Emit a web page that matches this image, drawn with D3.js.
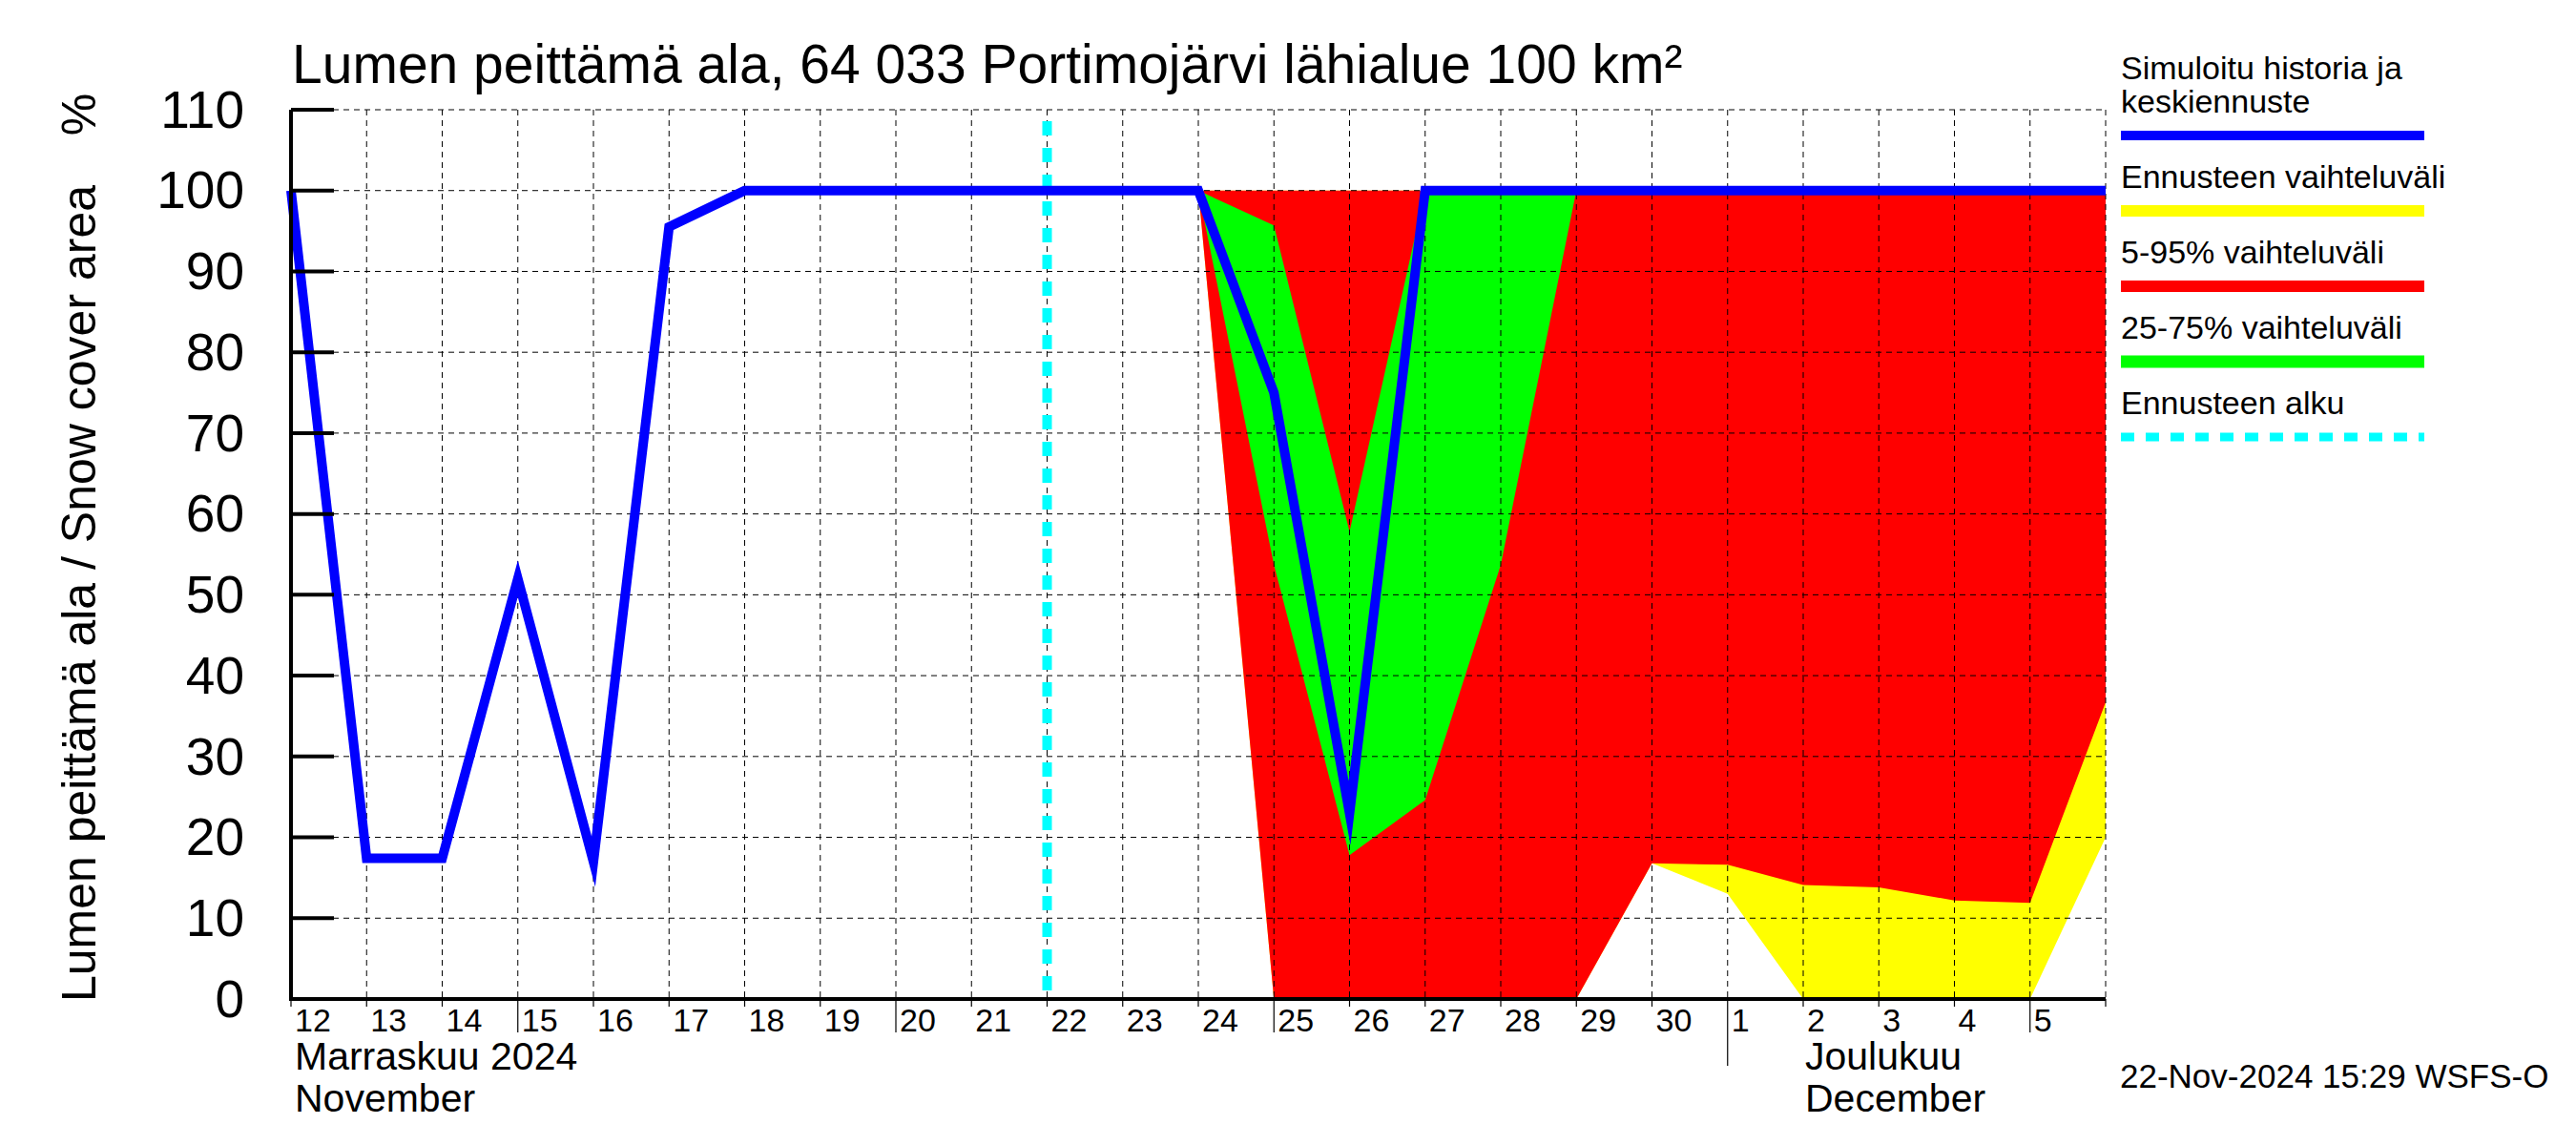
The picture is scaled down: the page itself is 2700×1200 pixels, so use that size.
<!DOCTYPE html>
<html>
<head>
<meta charset="utf-8">
<script src="https://cdn.jsdelivr.net/npm/d3@7"></script>
<style>
  body { margin: 0; background: #fff; }
  svg { display: block; font-family: "Liberation Sans", Arial, sans-serif; }
</style>
</head>
<body>
<svg id="chart" width="2700" height="1200"></svg>
<script>
// simulated history + mean forecast
const simDates = ['2024-11-12', '2024-11-13', '2024-11-14', '2024-11-15', '2024-11-16', '2024-11-17',
  '2024-11-18', '2024-11-19', '2024-11-20', '2024-11-21', '2024-11-22', '2024-11-23', '2024-11-24',
  '2024-11-25', '2024-11-26', '2024-11-27', '2024-11-28', '2024-11-29', '2024-11-30',
  '2024-12-01', '2024-12-02', '2024-12-03', '2024-12-04', '2024-12-05', '2024-12-06'];
const simValues = [100, 17.4, 17.4, 52, 17, 95.5, 100, 100, 100, 100, 100, 100, 100,
  75, 23, 100, 100, 100, 100, 100, 100, 100, 100, 100, 100];

// forecast spread
const fcDates = ['2024-11-24', '2024-11-25', '2024-11-26', '2024-11-27', '2024-11-28', '2024-11-29',
  '2024-11-30', '2024-12-01', '2024-12-02', '2024-12-03', '2024-12-04', '2024-12-05', '2024-12-06'];
const rangeMin = [100, 0, 0, 0, 0, 0, 16.8, 13, 0, 0, 0, 0, 20];
const rangeMax = [100, 100, 100, 100, 100, 100, 100, 100, 100, 100, 100, 100, 100];
const p05 = [100, 0, 0, 0, 0, 0, 16.8, 16.6, 14.1, 13.8, 12.2, 11.9, 36.7];
const p95 = [100, 100, 100, 100, 100, 100, 100, 100, 100, 100, 100, 100, 100];
const p25 = [100, 53.7, 17.8, 24.6, 53.7, 100, 100, 100, 100, 100, 100, 100, 100];
const p75 = [100, 95.7, 57.8, 100, 100, 100, 100, 100, 100, 100, 100, 100, 100];

const forecastStart = '2024-11-22';
const yTicks = [0, 10, 20, 30, 40, 50, 60, 70, 80, 90, 100, 110];
const longTickDays = [5, 10, 15, 20, 25];

const legendItems = [
  { lines: ['Simuloitu historia ja', 'keskiennuste'], color: '#0000ff', width: 10 },
  { lines: ['Ennusteen vaihteluväli'], color: '#ffff00', width: 12 },
  { lines: ['5-95% vaihteluväli'], color: '#ff0000', width: 12 },
  { lines: ['25-75% vaihteluväli'], color: '#00ff00', width: 13 },
  { lines: ['Ennusteen alku'], color: '#00ffff', width: 9, dash: '14,12' }
];

const parse = d3.utcParse('%Y-%m-%d');
const svg = d3.select('#chart');

const margin = { left: 305, right: 2207, top: 115, bottom: 1047 };

const x = d3.scaleUtc()
  .domain([parse('2024-11-12'), parse('2024-12-06')])
  .range([margin.left, margin.right]);

const y = d3.scaleLinear()
  .domain([0, 110])
  .range([margin.bottom, margin.top]);

const fc = fcDates.map((d, i) => ({
  date: parse(d), min: rangeMin[i], max: rangeMax[i],
  p05: p05[i], p95: p95[i], p25: p25[i], p75: p75[i]
}));

// bands
function band(lo, hi) {
  return d3.area().x(d => x(d.date)).y0(d => y(d[lo])).y1(d => y(d[hi]));
}
svg.append('path').datum(fc).attr('d', band('min', 'max')).attr('fill', '#ffff00');
svg.append('path').datum(fc).attr('d', band('p05', 'p95')).attr('fill', '#ff0000');
svg.append('path').datum(fc).attr('d', band('p25', 'p75')).attr('fill', '#00ff00');

// grid
const days = d3.utcDay.range(x.domain()[0], d3.utcDay.offset(x.domain()[1], 1));
const grid = svg.append('g')
  .attr('stroke', '#000')
  .attr('stroke-width', 1)
  .attr('stroke-dasharray', '6,5');
grid.selectAll('.vg')
  .data(days.slice(1))
  .enter().append('line')
  .attr('x1', d => x(d)).attr('x2', d => x(d))
  .attr('y1', y(110)).attr('y2', y(0));
grid.selectAll('.hg')
  .data(yTicks.slice(1))
  .enter().append('line')
  .attr('x1', x.range()[0]).attr('x2', x.range()[1])
  .attr('y1', d => y(d)).attr('y2', d => y(d));

// forecast start
svg.append('line')
  .attr('x1', x(parse(forecastStart))).attr('x2', x(parse(forecastStart)))
  .attr('y1', y(110)).attr('y2', y(0))
  .attr('stroke', '#00ffff')
  .attr('stroke-width', 10)
  .attr('stroke-dasharray', '15,13')
  .attr('stroke-dashoffset', -12);

// simulated line
const sim = simDates.map((d, i) => ({ date: parse(d), v: simValues[i] }));
svg.append('path')
  .datum(sim)
  .attr('d', d3.line().x(d => x(d.date)).y(d => y(d.v)))
  .attr('fill', 'none')
  .attr('stroke', '#0000ff')
  .attr('stroke-width', 10)
  .attr('stroke-linejoin', 'miter')
  .attr('stroke-miterlimit', 10);

// y axis
const yAxis = svg.append('g');
yAxis.append('line')
  .attr('x1', margin.left).attr('x2', margin.left)
  .attr('y1', y(110)).attr('y2', y(0) + 2)
  .attr('stroke', '#000').attr('stroke-width', 4);
yAxis.selectAll('.yt')
  .data(yTicks)
  .enter().append('line')
  .attr('x1', margin.left).attr('x2', margin.left + 45)
  .attr('y1', d => y(d)).attr('y2', d => y(d))
  .attr('stroke', '#000').attr('stroke-width', 4);
yAxis.selectAll('.yl')
  .data(yTicks)
  .enter().append('text')
  .attr('x', 256)
  .attr('y', d => y(d))
  .attr('dy', '0.34em')
  .attr('text-anchor', 'end')
  .attr('font-size', 55)
  .text(d => d);

// x axis
const xAxis = svg.append('g');
xAxis.append('line')
  .attr('x1', margin.left - 2).attr('x2', margin.right)
  .attr('y1', margin.bottom).attr('y2', margin.bottom)
  .attr('stroke', '#000').attr('stroke-width', 4);
xAxis.selectAll('.xt')
  .data(days)
  .enter().append('line')
  .attr('x1', d => x(d)).attr('x2', d => x(d))
  .attr('y1', margin.bottom)
  .attr('y2', d => {
    const dd = d.getUTCDate();
    if (dd === 1) return 1117;
    return longTickDays.includes(dd) ? 1082 : 1055;
  })
  .attr('stroke', '#000').attr('stroke-width', 1.2);
xAxis.selectAll('.xl')
  .data(days.slice(0, -1))
  .enter().append('text')
  .attr('x', d => x(d) + 4)
  .attr('y', 1081)
  .attr('font-size', 34)
  .text(d => d.getUTCDate());

const monthLabels = [
  { date: '2024-11-12', lines: ['Marraskuu 2024', 'November'], dx: 4 },
  { date: '2024-12-02', lines: ['Joulukuu', 'December'], dx: 2 }
];
monthLabels.forEach(m => {
  m.lines.forEach((t, i) => {
    svg.append('text')
      .attr('x', x(parse(m.date)) + m.dx)
      .attr('y', 1121 + i * 44)
      .attr('font-size', 41)
      .text(t);
  });
});

// titles
svg.append('text')
  .attr('x', 306).attr('y', 87)
  .attr('font-size', 57)
  .text('Lumen peittämä ala, 64 033 Portimojärvi lähialue 100 km²');

svg.append('text')
  .attr('transform', 'translate(100,622) rotate(-90)')
  .attr('text-anchor', 'middle')
  .attr('font-size', 50)
  .text('Lumen peittämä ala / Snow cover area');
svg.append('text')
  .attr('transform', 'translate(100,120) rotate(-90)')
  .attr('text-anchor', 'middle')
  .attr('font-size', 50)
  .text('%');

svg.append('text')
  .attr('x', 2222).attr('y', 1140)
  .attr('font-size', 35)
  .text('22-Nov-2024 15:29 WSFS-O');

// legend
let ly = 83;
const legend = svg.append('g');
legendItems.forEach(item => {
  item.lines.forEach((t, i) => {
    legend.append('text')
      .attr('x', 2223).attr('y', ly + i * 35)
      .attr('font-size', 34)
      .text(t);
  });
  const lineY = ly + (item.lines.length - 1) * 35 + 24;
  legend.append('line')
    .attr('x1', 2223).attr('x2', 2541)
    .attr('y1', lineY).attr('y2', lineY)
    .attr('stroke', item.color)
    .attr('stroke-width', item.width)
    .attr('stroke-dasharray', item.dash || null);
  ly = lineY + 55;
});
</script>
</body>
</html>
